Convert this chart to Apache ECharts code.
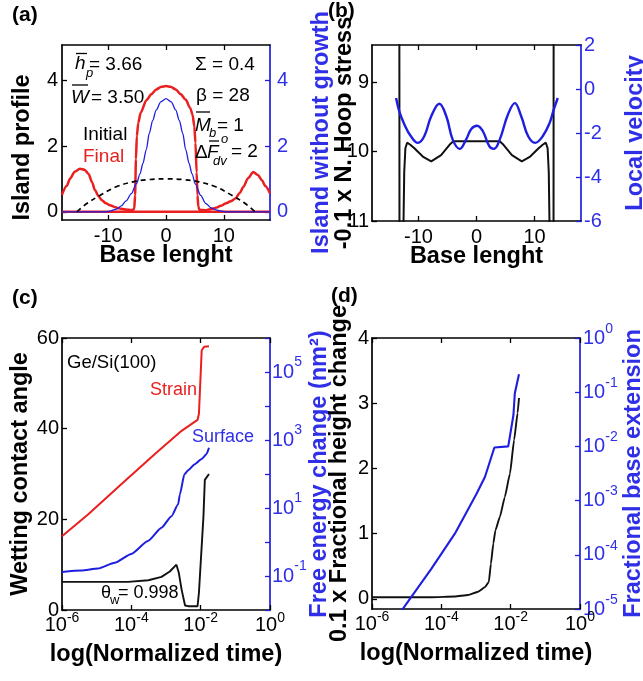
<!DOCTYPE html>
<html>
<head>
<meta charset="utf-8">
<script src="https://cdn.jsdelivr.net/npm/echarts@6/dist/echarts.min.js"></script>
<style>
  html, body { margin: 0; padding: 0; background: #fff; }
  #chart { width: 643px; height: 681px; }
</style>
</head>
<body>
<div id="chart"></div>
<script>
// ---------- (a) island profiles along the base ----------
const baseTicks = [-10, 0, 10];
const profileTicks = [0, 2, 4];

const finalX = [-18, -17.2, -16.6, -15.8, -14.9, -14.1, -13.4, -12.8, -12.3, -11.7,
  -11.1, -10.4, -9.7, -8.8, -8.0, -7.0, -6.0, -5.5, -5.35, -5.2,
  -5.05, -4.8, -4.4, -3.4, -2.5, -1.7, -0.8, 0, 0.8, 1.7,
  2.5, 3.4, 4.2, 4.6, 4.9, 5.1, 5.3, 5.45, 5.6, 5.8,
  6.9, 8.0, 8.6, 9.5, 10.3, 11.2, 12.0, 12.8, 13.4, 14.2,
  15.1, 15.9, 16.6, 17.2, 18];
const finalY = [0.52, 0.78, 1.01, 1.22, 1.31, 1.28, 1.15, 0.90, 0.66, 0.48,
  0.35, 0.26, 0.20, 0.14, 0.10, 0.07, 0.05, 0.08, 0.50, 1.60,
  2.30, 2.70, 3.00, 3.39, 3.58, 3.72, 3.80, 3.82, 3.80, 3.72,
  3.58, 3.41, 3.15, 2.95, 2.60, 2.10, 1.20, 0.50, 0.15, 0.06,
  0.05, 0.09, 0.12, 0.18, 0.25, 0.32, 0.40, 0.58, 0.76, 1.02,
  1.21, 1.12, 0.96, 0.78, 0.56];

const substrateX = [-18, 18];
const substrateY = [0, 0];

const noGrowthX = [-18, -10.3, -9.5, -8.6, -7.8, -6.9, -6.0, -5.1, -4.5, -4.0,
  -3.4, -2.9, -2.3, -1.7, -0.9, 0, 0.9, 1.7, 2.3, 2.9,
  3.4, 4.0, 4.5, 5.1, 6.0, 6.9, 7.8, 8.6, 9.5, 10.3, 18];
const noGrowthY = [0, 0, 0.03, 0.08, 0.17, 0.33, 0.55, 0.86, 1.15, 1.47,
  1.90, 2.38, 2.78, 3.09, 3.34, 3.44, 3.34, 3.09, 2.78, 2.38,
  1.90, 1.47, 1.15, 0.84, 0.50, 0.25, 0.12, 0.06, 0.02, 0, 0];

const initialX = [-15.4, -13.7, -11.4, -8.6, -5.7, -2.9, 0, 2.9, 5.7, 8.6, 11.4, 13.7, 15.4];
const initialY = [0, 0.25, 0.50, 0.76, 0.91, 0.98, 1.00, 0.98, 0.91, 0.76, 0.50, 0.25, 0];

// ---------- (b) hoop stress and local velocity ----------
const hoopTicks = [9, 10, 11];
const velocityTicks = [-6, -4, -2, 0, 2];

const hoopX = [-13.3, -13.25, -12.7, -12.6, -12.45, -12.25, -11.95, -11.4, -10.7, -9.25,
  -7.8, -6.1, -4.65, -4.0, 4.0, 4.65, 6.1, 7.8, 9.25, 10.7,
  11.4, 11.95, 12.25, 12.45, 12.6, 12.7, 13.25, 13.3];
const hoopY = [6, 14, 14, 11.2, 10.3, 9.95, 9.87, 9.90, 9.95, 10.07,
  10.14, 10.05, 9.90, 9.85, 9.85, 9.90, 10.05, 10.14, 10.07, 9.95,
  9.90, 9.87, 9.95, 10.3, 11.2, 14, 14, 6];

const velocityX = [-13.85, -13.3, -12.4, -11.3, -10.1, -9.0, -7.8, -6.4, -5.2, -4.1,
  -2.9, -1.8, -0.9, 0.1, 1.1, 2.2, 3.0, 4.0, 5.4, 6.6,
  7.7, 8.9, 10.1, 11.4, 12.6, 13.3, 14.0];
const velocityY = [-0.41, -1.02, -1.62, -2.15, -2.45, -2.15, -1.24, -0.67, -1.24, -2.30,
  -2.72, -2.30, -1.82, -1.67, -1.92, -2.60, -2.72, -2.30, -1.17, -0.64,
  -1.24, -2.15, -2.45, -2.15, -1.54, -0.94, -0.41];

// ---------- (c) contact angle and free energy vs time (log10 values) ----------
const timeTicks = [1e-6, 1e-4, 1e-2, 1];
const angleTicks = [0, 20, 40, 60];

const strainLogT = [-6, -5.25, -4.29, -3.32, -2.55, -2.09, -2.05, -1.97, -1.90, -1.76];
const strainLogE = [0.17, 0.81, 1.70, 2.59, 3.27, 3.59, 3.77, 5.64, 5.74, 5.76];

const surfaceLogT = [-6, -5.44, -4.96, -4.48, -4.0, -3.51, -3.13, -2.84, -2.65, -2.60,
  -2.47, -2.36, -2.17, -1.97, -1.83, -1.76];
const surfaceLogE = [-0.88, -0.84, -0.78, -0.61, -0.35, 0.04, 0.42, 0.76, 1.11, 1.40,
  1.99, 2.11, 2.29, 2.44, 2.59, 2.77];

const wettingLogT = [-6, -4.96, -4.09, -3.51, -3.13, -2.89, -2.70, -2.63, -2.55, -2.45,
  -2.36, -2.09, -2.05, -1.92, -1.88, -1.83, -1.76];
const wettingAngle = [6.2, 6.2, 6.2, 6.56, 7.3, 8.5, 10.0, 8.2, 4.5, 1.0,
  0.84, 0.84, 3.8, 20.6, 28.7, 29.0, 30.0];

// ---------- (d) height change and base extension vs time (log10 values) ----------
const heightTicks = [0, 1, 2, 3, 4];

const heightLogT = [-6, -4.29, -3.61, -3.23, -2.94, -2.74, -2.63, -2.57, -2.50, -2.44,
  -2.31, -2.17, -2.02, -1.90, -1.80, -1.76];
const heightChange = [0.026, 0.026, 0.036, 0.06, 0.11, 0.18, 0.26, 0.54, 0.85, 1.05,
  1.26, 1.56, 1.92, 2.44, 2.85, 3.08];

const extensionLogT = [-5.18, -4.29, -3.61, -2.98, -2.74, -2.47, -2.07, -1.92, -1.88, -1.76];
const extensionLog = [-5.06, -4.26, -3.61, -2.87, -2.56, -2.02, -2.00, -1.42, -1.02, -0.67];

// ---------- styling ----------
const FONT = "'Liberation Sans', Arial, Helvetica, sans-serif";
const BLACK = '#000000';
const BLUE = '#1e1ee0';
const BLUE_TEXT = '#2f2fe8';
const RED = '#ea1f1f';

const pairs = (xs, ys) => xs.map((x, i) => [x, ys[i]]);
const logXPairs = (xe, ys) => xe.map((e, i) => [Math.pow(10, e), ys[i]]);
const logLogPairs = (xe, ye) => xe.map((e, i) => [Math.pow(10, e), Math.pow(10, ye[i])]);

const axisLine = c => ({ show: true, onZero: false, lineStyle: { color: c, width: 1.7 } });
const ticks = (c, values) => {
  const t = { show: true, inside: true, length: 5, lineStyle: { color: c, width: 1.3 } };
  if (values) t.customValues = values;
  return t;
};
const numLabels = (c, margin, values) => {
  const l = { color: c, fontFamily: FONT, fontSize: 20, margin: margin };
  if (values) l.customValues = values;
  return l;
};
const nameStyle = (c, extra) => Object.assign({ color: c, fontFamily: FONT, fontSize: 23.5, fontWeight: 'bold' }, extra || {});

const powRich = (c, raise) => ({
  b: { color: c, fontFamily: FONT, fontSize: 20 },
  s: { color: c, fontFamily: FONT, fontSize: 14, padding: [0, 0, raise, 0] }
});
const powLabel = v => '{b|10}{s|' + Math.round(Math.log10(v)) + '}';
const oddPowLabel = v => {
  const e = Math.round(Math.log10(v));
  return Math.abs(e) % 2 === 1 ? '{b|10}{s|' + e + '}' : '';
};

function baseX(grid, name) {
  return [
    { gridIndex: grid, type: 'value', position: 'bottom', min: -18, max: 18,
      axisLine: axisLine(BLACK), axisTick: ticks(BLACK, baseTicks),
      axisLabel: numLabels(BLACK, 6, baseTicks), splitLine: { show: false },
      name: name, nameLocation: 'middle', nameGap: 24, nameMoveOverlap: false,
      nameTextStyle: nameStyle(BLACK) },
    { gridIndex: grid, type: 'value', position: 'top', min: -18, max: 18,
      axisLine: axisLine(BLACK), axisTick: ticks(BLACK, baseTicks),
      axisLabel: { show: false }, splitLine: { show: false } }
  ];
}
function timeX(grid) {
  return [
    { gridIndex: grid, type: 'log', logBase: 10, position: 'bottom', min: 1e-6, max: 1,
      axisLine: axisLine(BLACK), axisTick: ticks(BLACK, timeTicks),
      axisLabel: { customValues: timeTicks, formatter: powLabel, rich: powRich(BLACK, 14), margin: 1 },
      splitLine: { show: false }, minorTick: { show: false },
      name: 'log(Normalized time)', nameLocation: 'middle', nameGap: 33, nameMoveOverlap: false,
      nameTextStyle: nameStyle(BLACK) },
    { gridIndex: grid, type: 'log', logBase: 10, position: 'top', min: 1e-6, max: 1,
      axisLine: axisLine(BLACK), axisTick: ticks(BLACK, timeTicks),
      axisLabel: { show: false }, splitLine: { show: false } }
  ];
}

const option = {
  animation: false,
  backgroundColor: '#ffffff',
  grid: [
    { left: 62, top: 45, width: 208, height: 175, outerBoundsMode: 'none' },
    { left: 372, top: 45, width: 209, height: 176, outerBoundsMode: 'none' },
    { left: 62, top: 338, width: 208, height: 272, outerBoundsMode: 'none' },
    { left: 372, top: 338, width: 208, height: 271, outerBoundsMode: 'none' }
  ],
  xAxis: [].concat(baseX(0, 'Base lenght'), baseX(1, 'Base lenght'), timeX(2), timeX(3)),
  yAxis: [
    // (a)
    { gridIndex: 0, type: 'value', position: 'left', min: -0.25, max: 5.07,
      axisLine: axisLine(BLACK), axisTick: ticks(BLACK, profileTicks),
      axisLabel: numLabels(BLACK, 4, profileTicks), splitLine: { show: false },
      name: 'Island profile', nameLocation: 'middle', nameGap: 27, nameMoveOverlap: false,
      nameTextStyle: nameStyle(BLACK, { padding: [0, 30, 0, 0] }) },
    { gridIndex: 0, type: 'value', position: 'right', min: -0.25, max: 5.07,
      axisLine: axisLine(BLUE), axisTick: ticks(BLUE, profileTicks),
      axisLabel: numLabels(BLUE_TEXT, 7, profileTicks), splitLine: { show: false },
      name: 'Island without growth', nameLocation: 'middle', nameGap: 40, nameMoveOverlap: false,
      nameTextStyle: nameStyle(BLUE_TEXT) },
    // (b)
    { gridIndex: 1, type: 'value', position: 'left', min: 8.46, max: 11, inverse: true,
      axisLine: axisLine(BLACK), axisTick: ticks(BLACK, hoopTicks),
      axisLabel: numLabels(BLACK, 3, hoopTicks), splitLine: { show: false },
      name: '-0.1 x N. Hoop stress', nameLocation: 'middle', nameGap: 15, nameMoveOverlap: false,
      nameTextStyle: nameStyle(BLACK) },
    { gridIndex: 1, type: 'value', position: 'right', min: -6, max: 2,
      axisLine: axisLine(BLUE), axisTick: ticks(BLUE, velocityTicks),
      axisLabel: numLabels(BLUE_TEXT, 3, velocityTicks), splitLine: { show: false },
      name: 'Local velocity', nameLocation: 'middle', nameGap: 43, nameMoveOverlap: false,
      nameTextStyle: nameStyle(BLUE_TEXT) },
    // (c)
    { gridIndex: 2, type: 'value', position: 'left', min: 0, max: 60,
      axisLine: axisLine(BLACK), axisTick: ticks(BLACK, angleTicks),
      axisLabel: numLabels(BLACK, 3, angleTicks), splitLine: { show: false },
      name: 'Wetting contact angle', nameLocation: 'middle', nameGap: 29, nameMoveOverlap: false,
      nameTextStyle: nameStyle(BLACK) },
    { gridIndex: 2, type: 'log', logBase: 10, position: 'right', min: 1e-2, max: 1e6,
      axisLine: axisLine(BLUE), axisTick: ticks(BLUE),
      axisLabel: { formatter: oddPowLabel, rich: powRich(BLUE_TEXT, 20), margin: 2 },
      splitLine: { show: false }, minorTick: { show: false },
      name: 'Free energy change (nm\u00B2)', nameLocation: 'middle', nameGap: 38, nameMoveOverlap: false,
      nameTextStyle: nameStyle(BLUE_TEXT) },
    // (d)
    { gridIndex: 3, type: 'value', position: 'left', min: -0.155, max: 4,
      axisLine: axisLine(BLACK), axisTick: ticks(BLACK, heightTicks),
      axisLabel: numLabels(BLACK, 3, heightTicks), splitLine: { show: false },
      name: '0.1 x Fractional height change', nameLocation: 'middle', nameGap: 20, nameMoveOverlap: false,
      nameTextStyle: nameStyle(BLACK) },
    { gridIndex: 3, type: 'log', logBase: 10, position: 'right', min: 1e-5, max: 1,
      axisLine: axisLine(BLUE), axisTick: ticks(BLUE),
      axisLabel: { formatter: powLabel, rich: powRich(BLUE_TEXT, 18), margin: 3 },
      splitLine: { show: false }, minorTick: { show: false },
      name: 'Fractional base extension', nameLocation: 'middle', nameGap: 42, nameMoveOverlap: false,
      nameTextStyle: nameStyle(BLUE_TEXT) }
  ],
  series: [
    // (a)
    { type: 'line', xAxisIndex: 0, yAxisIndex: 0, data: pairs(substrateX, substrateY),
      symbol: 'none', lineStyle: { color: RED, width: 2.5 } },
    { type: 'line', xAxisIndex: 0, yAxisIndex: 0, data: pairs(finalX, finalY),
      symbol: 'none', smooth: 0.25, smoothMonotone: 'x', lineStyle: { color: RED, width: 2.5 } },
    { type: 'line', xAxisIndex: 0, yAxisIndex: 1, data: pairs(noGrowthX, noGrowthY),
      symbol: 'none', smooth: 0.3, smoothMonotone: 'x', lineStyle: { color: BLUE, width: 1.3 } },
    { type: 'line', xAxisIndex: 0, yAxisIndex: 0, data: pairs(initialX, initialY),
      symbol: 'none', smooth: 0.4, lineStyle: { color: BLACK, width: 1.7, type: [5, 4] } },
    // (b)
    { type: 'line', xAxisIndex: 2, yAxisIndex: 2, data: pairs(hoopX, hoopY),
      symbol: 'none', lineStyle: { color: '#111', width: 2 } },
    { type: 'line', xAxisIndex: 2, yAxisIndex: 3, data: pairs(velocityX, velocityY),
      symbol: 'none', smooth: 0.4, lineStyle: { color: BLUE, width: 2.4 } },
    // (c)
    { type: 'line', xAxisIndex: 4, yAxisIndex: 5, data: logLogPairs(strainLogT, strainLogE),
      symbol: 'none', lineStyle: { color: RED, width: 2 } },
    { type: 'line', xAxisIndex: 4, yAxisIndex: 5, data: logLogPairs(surfaceLogT, surfaceLogE),
      symbol: 'none', smooth: 0.2, smoothMonotone: 'x', lineStyle: { color: BLUE, width: 2 } },
    { type: 'line', xAxisIndex: 4, yAxisIndex: 4, data: logXPairs(wettingLogT, wettingAngle),
      symbol: 'none', lineStyle: { color: '#111', width: 1.9 } },
    // (d)
    { type: 'line', xAxisIndex: 6, yAxisIndex: 6, data: logXPairs(heightLogT, heightChange),
      symbol: 'none', smooth: 0.15, smoothMonotone: 'x', lineStyle: { color: '#111', width: 1.9 } },
    { type: 'line', xAxisIndex: 6, yAxisIndex: 7, data: logLogPairs(extensionLogT, extensionLog),
      symbol: 'none', lineStyle: { color: BLUE, width: 2.1 } }
  ],
  graphic: { elements: [] }
};

// annotations and panel tags
function note(text, x, y, extra) {
  return { type: 'text', x: x, y: y, z: 50, silent: true,
    style: Object.assign({ text: text, fill: BLACK, fontFamily: FONT, fontSize: 19,
      align: 'left', textAlign: 'left', verticalAlign: 'middle', textVerticalAlign: 'middle' }, extra || {}) };
}
function overbar(x1, x2, y) {
  return { type: 'line', z: 50, silent: true, shape: { x1: x1, y1: y, x2: x2, y2: y },
    style: { stroke: BLACK, lineWidth: 1.3 } };
}
const it = { fontStyle: 'italic' };
const itSmall = { fontStyle: 'italic', fontSize: 13 };
const tag = { fontWeight: 'bold', fontSize: 21 };

option.graphic.elements = [
  note('(a)', 12, 15, tag),
  note('(b)', 328, 11, tag),
  note('(c)', 12, 298, tag),
  note('(d)', 331, 296, tag),
  // (a) parameters
  note('h', 75, 64, it), overbar(76, 87, 53.5), note('p', 86, 73, itSmall), note('= 3.66', 89, 65),
  note('W', 71, 98, it), overbar(72, 88, 85), note('= 3.50', 91, 98),
  note('\u03A3 = 0.4', 195, 65),
  note('\u03B2 = 28', 196, 96),
  note('M', 195, 126, it), overbar(196, 210, 112), note('b', 209, 133, itSmall), note('= 1', 217, 126),
  note('\u0394', 195, 153), note('F', 207, 153, it), overbar(209, 219, 141),
  note('o', 221, 139, itSmall), note('dv', 213, 161, itSmall), note('= 2', 231, 152),
  note('Initial', 83, 135),
  note('Final', 83, 157, { fill: RED }),
  // (c) labels
  note('Ge/Si(100)', 67, 363, { fontSize: 18.5 }),
  note('Strain', 150, 390, { fill: RED, fontSize: 18 }),
  note('Surface', 192, 437, { fill: BLUE_TEXT, fontSize: 18 }),
  note('\u03B8', 101, 593, { fontSize: 18 }), note('w', 110, 600, { fontSize: 13 }),
  note('= 0.998', 118, 593, { fontSize: 18 })
];

const chart = echarts.init(document.getElementById('chart'), null, { renderer: 'canvas' });
chart.setOption(option);
</script>
</body>
</html>
